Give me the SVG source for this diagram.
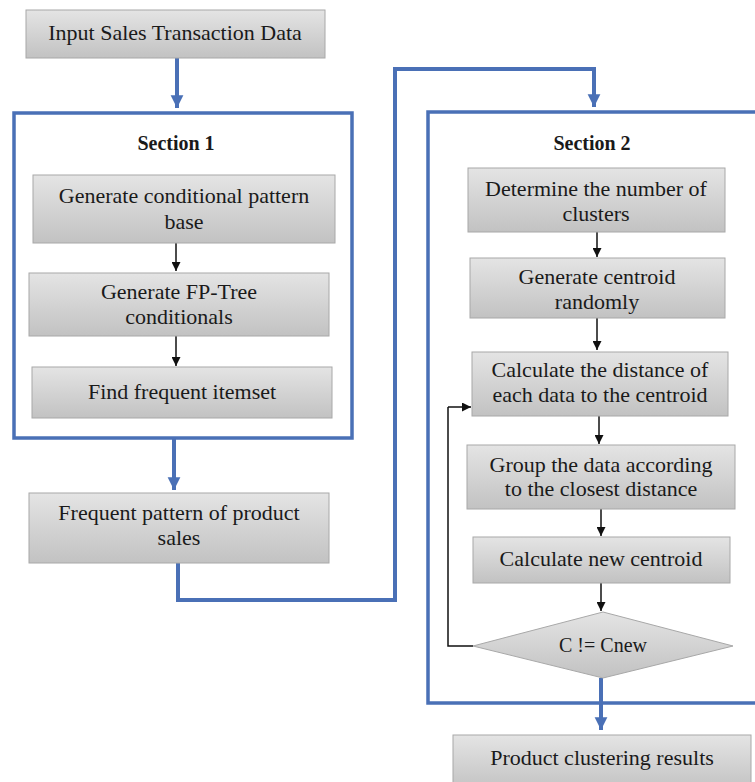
<svg xmlns="http://www.w3.org/2000/svg" width="755" height="782" viewBox="0 0 755 782">
<defs>
<linearGradient id="g" x1="0" y1="0" x2="0" y2="1">
<stop offset="0" stop-color="#e4e4e4"/>
<stop offset="1" stop-color="#c2c2c2"/>
</linearGradient>
<marker id="bh" markerWidth="4" markerHeight="4" refX="3.2" refY="2" orient="auto" markerUnits="strokeWidth">
<path d="M0,0.4 L3.2,2 L0,3.6 Z" fill="#4a70b6"/>
</marker>
<marker id="kh" markerWidth="9" markerHeight="9" refX="9" refY="4.5" orient="auto" markerUnits="userSpaceOnUse">
<path d="M0,0 L9,4.5 L0,9 Z" fill="#111"/>
</marker>
<style>
.box{fill:url(#g);stroke:#a8a8a8;stroke-width:1}
.sec{fill:none;stroke:#4a70b6;stroke-width:3.5}
.t{font-family:"Liberation Serif","Times New Roman",serif;font-size:22px;fill:#1a1a1a;text-anchor:middle}
.b{font-weight:bold;font-size:20px}
.blue{fill:none;stroke:#4a70b6;stroke-width:4;marker-end:url(#bh)}
.blk{fill:none;stroke:#111;stroke-width:1.5;marker-end:url(#kh)}
.fb{fill:none;stroke:#111;stroke-width:1.5}
</style>
</defs>
<rect width="755" height="782" fill="#fff"/>
<g id="section1"><rect class="sec" x="14" y="113" width="338" height="325"/><text class="t b" x="176" y="150">Section 1</text></g>
<g id="section2"><rect class="sec" x="428" y="112" width="340" height="591"/><text class="t b" x="592" y="150">Section 2</text></g>
<g id="connectors">
<path class="blue" d="M177,58 V108"/>
<path class="blue" d="M174,438 V490"/>
<path class="blue" d="M178,563 V600 H395 V69 H594 V107"/>
<path class="blue" d="M601,678 V730"/>
<path class="blk" d="M176,243 V271"/>
<path class="blk" d="M176,336 V366"/>
<path class="blk" d="M597,232 V257"/>
<path class="blk" d="M597,318 V350"/>
<path class="blk" d="M599,416 V444"/>
<path class="blk" d="M601,509 V536"/>
<path class="blk" d="M601,583 V611"/>
<path class="fb" d="M473,646 H448 V407"/>
<path class="blk" d="M448,407 H471"/>
</g>
<g id="input"><rect class="box" x="26" y="10" width="299" height="48"/><text class="t" x="175" y="40">Input Sales Transaction Data</text></g>
<g id="cpb"><rect class="box" x="33" y="175" width="302" height="68"/><text class="t" x="184" y="203">Generate conditional pattern</text><text class="t" x="184" y="229">base</text></g>
<g id="fptree"><rect class="box" x="29" y="273" width="300" height="63"/><text class="t" x="179" y="299">Generate FP-Tree</text><text class="t" x="179" y="324">conditionals</text></g>
<g id="itemset"><rect class="box" x="32" y="367" width="300" height="51"/><text class="t" x="182" y="399">Find frequent itemset</text></g>
<g id="frequent"><rect class="box" x="29" y="493" width="300" height="70"/><text class="t" x="179" y="520">Frequent pattern of product</text><text class="t" x="179" y="545">sales</text></g>
<g id="nclusters"><rect class="box" x="468" y="168" width="257" height="64"/><text class="t" x="596" y="196">Determine the number of</text><text class="t" x="596" y="221">clusters</text></g>
<g id="centroid"><rect class="box" x="470" y="258" width="255" height="60"/><text class="t" x="597" y="284">Generate centroid</text><text class="t" x="597" y="309">randomly</text></g>
<g id="distance"><rect class="box" x="472" y="352" width="256" height="64"/><text class="t" x="600" y="377">Calculate the distance of</text><text class="t" x="600" y="402">each data to the centroid</text></g>
<g id="group"><rect class="box" x="467" y="445" width="268" height="64"/><text class="t" x="601" y="472">Group the data according</text><text class="t" x="601" y="496">to the closest distance</text></g>
<g id="newcentroid"><rect class="box" x="473" y="537" width="257" height="46"/><text class="t" x="601" y="566">Calculate new centroid</text></g>
<g id="decision"><path class="box" d="M603,612 L733,646 L603,678 L473,646 Z"/><text class="t" x="603" y="652" style="font-size:20px">C != Cnew</text></g>
<g id="results"><rect class="box" x="453" y="735" width="298" height="56"/><text class="t" x="602" y="765">Product clustering results</text></g>
</svg>
